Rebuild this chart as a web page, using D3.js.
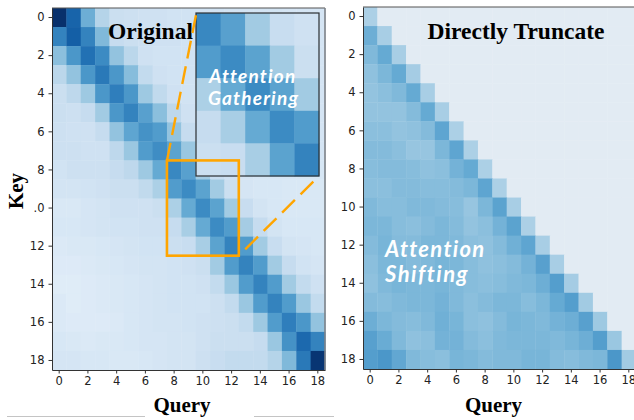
<!DOCTYPE html>
<html><head><meta charset="utf-8">
<script src="https://cdn.jsdelivr.net/npm/d3@7"></script>
<style>html,body{margin:0;padding:0;background:#fff;overflow:hidden}svg{display:block}</style>
</head><body><div id="chart"></div>
<script>
const categories = d3.range(19);
const tickValues = [0,2,4,6,8,10,12,14,16,18];
const leftKeyLabels = ["0","2","4","6","8",".0","12","14","16","18"];
const rightKeyLabels = ["0","2","4","6","8","10","12","14","16","18"];
const queryLabels = ["0","2","4","6","8","10","12","14","16","18"];
const original = [
[1.0,.80,.50,.30,.22,.21,.20,.20,.19,.19,.19,.19,.18,.18,.18,.18,.17,.17,.17],
[.68,.82,.68,.45,.24,.22,.21,.20,.20,.19,.19,.19,.18,.18,.18,.18,.17,.17,.17],
[.42,.60,.75,.65,.40,.28,.20,.19,.19,.19,.18,.18,.18,.18,.18,.17,.17,.17,.17],
[.28,.40,.60,.72,.60,.43,.25,.20,.19,.19,.19,.18,.18,.18,.18,.17,.17,.17,.17],
[.22,.27,.37,.60,.70,.60,.37,.26,.20,.19,.19,.18,.18,.18,.18,.18,.17,.17,.17],
[.22,.21,.24,.36,.60,.68,.56,.42,.27,.20,.19,.19,.18,.18,.18,.18,.18,.17,.17],
[.21,.20,.20,.24,.40,.54,.62,.58,.40,.24,.20,.19,.18,.18,.18,.18,.17,.17,.17],
[.21,.21,.20,.20,.27,.38,.58,.64,.55,.38,.22,.19,.18,.18,.17,.17,.17,.17,.17],
[.19,.21,.21,.21,.24,.27,.37,.52,.66,.56,.36,.23,.20,.17,.16,.16,.16,.16,.16],
[.18,.18,.19,.20,.22,.22,.26,.33,.58,.65,.55,.36,.22,.17,.16,.16,.15,.15,.15],
[.15,.15,.17,.18,.20,.20,.20,.22,.33,.52,.65,.55,.36,.23,.18,.16,.15,.15,.15],
[.16,.16,.17,.18,.19,.19,.20,.20,.24,.34,.52,.65,.58,.35,.24,.18,.16,.16,.16],
[.14,.15,.15,.16,.17,.18,.19,.19,.22,.23,.34,.55,.68,.58,.36,.23,.18,.17,.16],
[.13,.13,.14,.15,.16,.17,.18,.18,.19,.20,.22,.36,.58,.68,.58,.36,.24,.19,.17],
[.12,.12,.13,.14,.15,.16,.17,.18,.19,.19,.20,.25,.38,.58,.68,.58,.36,.25,.20],
[.14,.12,.13,.14,.15,.16,.17,.18,.19,.19,.19,.21,.25,.38,.58,.68,.58,.38,.25],
[.14,.13,.13,.13,.14,.16,.17,.18,.18,.19,.20,.21,.22,.25,.37,.58,.70,.60,.40],
[.16,.15,.14,.15,.15,.16,.17,.17,.18,.18,.20,.22,.22,.22,.24,.38,.62,.78,.68],
[.17,.17,.16,.16,.15,.15,.16,.17,.18,.18,.21,.23,.25,.25,.25,.30,.45,.72,.98]
];
const truncated = [
[.33],
[.50,.34],
[.45,.52,.34],
[.41,.46,.52,.35],
[.40,.42,.45,.52,.34],
[.40,.40,.40,.44,.52,.34],
[.42,.42,.40,.41,.44,.54,.33],
[.44,.44,.42,.39,.39,.46,.54,.33],
[.43,.44,.44,.43,.41,.42,.48,.52,.33],
[.42,.42,.44,.44,.43,.43,.44,.46,.54,.33],
[.45,.43,.43,.45,.45,.44,.43,.39,.46,.55,.34],
[.46,.46,.43,.42,.44,.46,.44,.40,.42,.48,.55,.33],
[.44,.47,.44,.44,.46,.46,.45,.42,.41,.44,.49,.54,.34],
[.42,.46,.46,.44,.45,.47,.46,.43,.41,.42,.44,.48,.56,.34],
[.41,.45,.47,.46,.46,.47,.45,.43,.42,.43,.45,.46,.50,.57,.35],
[.44,.43,.45,.46,.46,.48,.45,.42,.44,.46,.46,.43,.46,.52,.57,.36],
[.50,.46,.44,.43,.45,.49,.47,.42,.41,.44,.47,.46,.45,.48,.50,.56,.37],
[.56,.51,.45,.41,.42,.48,.48,.44,.42,.45,.46,.46,.46,.45,.47,.50,.57,.38],
[.57,.60,.53,.45,.43,.42,.47,.46,.44,.45,.45,.47,.47,.44,.43,.45,.46,.60,.36]
].map(r => r.concat(d3.range(19 - r.length).map(() => null)));

const W = 634, H = 420;
const svg = d3.select("#chart").append("svg").attr("width", W).attr("height", H);
const color = d3.scaleSequential(d3.interpolateBlues).domain([0, 1]);
const maskColor = "#e2ebf3";
const axisColor = "#333", textColor = "#222";

function panel(x0, x1, y0, y1, rows, keyLabels) {
  const x = d3.scaleBand().domain(categories).range([x0, x1]);
  const y = d3.scaleBand().domain(categories).range([y0, y1]);
  const g = svg.append("g");
  g.append("g").selectAll("g").data(rows).join("g").each(function (row, r) {
    d3.select(this).selectAll("rect").data(row).join("rect")
      .attr("x", (d, c) => x(c)).attr("y", y(r))
      .attr("width", x.bandwidth() + .4).attr("height", y.bandwidth() + .4)
      .attr("fill", d => d === null ? maskColor : color(d));
  });
  const ax = g.append("g").attr("transform", `translate(0,${y1})`)
    .call(d3.axisBottom(x).tickValues(tickValues).tickFormat((d, i) => queryLabels[i]).tickSize(3.5).tickSizeOuter(0).tickPadding(3.5));
  const ay = g.append("g").attr("transform", `translate(${x0},0)`)
    .call(d3.axisLeft(y).tickValues(tickValues).tickFormat((d, i) => keyLabels[i]).tickSize(3.5).tickSizeOuter(0).tickPadding(4));
  [ax, ay].forEach(a => {
    a.selectAll("path").attr("stroke", axisColor).attr("stroke-width", 1);
    a.selectAll("line").attr("stroke", axisColor).attr("stroke-width", 1);
    a.selectAll("text").attr("fill", textColor).style("font", "11.5px 'DejaVu Sans'");
  });
  g.append("line").attr("x1", x0).attr("x2", x1).attr("y1", y0).attr("y2", y0).attr("stroke", "#555").attr("stroke-width", 1.2);
  return { x, y, g };
}

const L = panel(52, 325, 8, 370, original, leftKeyLabels);
svg.append("line").attr("x1", 325).attr("x2", 325).attr("y1", 8).attr("y2", 370).attr("stroke", "#7d8288").attr("stroke-width", 1.6);
panel(363, 636, 7, 369, truncated, rightKeyLabels);

// Titles sit under the inset and the connectors
const serif = "'Liberation Serif','Times New Roman',serif";
function label(txt, x, y, size, rot) {
  const t = svg.append("text").text(txt).attr("text-anchor", "middle")
    .attr("font-family", serif).attr("font-weight", "bold").attr("font-size", size).attr("fill", "#000");
  if (rot) t.attr("transform", `translate(${x},${y}) rotate(${rot})`);
  else t.attr("x", x).attr("y", y);
}
label("Original", 150.5, 39, 23.5);
label("Directly Truncate", 516, 39, 23.5);
label("Query", 182, 412, 21);
label("Query", 493.5, 412, 21);
label("Key", 23, 191, 21, -90);

// Inset
const zoomKeys = [8,9,10,11,12];
const ix = d3.scaleBand().domain(zoomKeys).range([196, 319]);
const iy = d3.scaleBand().domain(zoomKeys).range([13, 176]);
const inset = svg.append("g");
zoomKeys.forEach(r => zoomKeys.forEach(c => {
  inset.append("rect").attr("x", ix(c)).attr("y", iy(r))
    .attr("width", ix.bandwidth() + .4).attr("height", iy.bandwidth() + .4)
    .attr("fill", color(original[r][c]));
}));
inset.append("rect").attr("x", 196).attr("y", 13).attr("width", 123).attr("height", 163)
  .attr("fill", "none").attr("stroke", "#2b2f33").attr("stroke-width", 1.2);

// Zoom region and connectors
const rx0 = L.x(8), rx1 = L.x(12) + L.x.bandwidth(), ry0 = L.y(8), ry1 = L.y(12) + L.y.bandwidth();
svg.append("rect").attr("x", rx0).attr("y", ry0).attr("width", rx1 - rx0).attr("height", ry1 - ry0)
  .attr("fill", "none").attr("stroke", "#ffa500").attr("stroke-width", 2.6);
svg.append("line").attr("x1", 167).attr("y1", ry0).attr("x2", 196).attr("y2", 15)
  .attr("stroke", "#ffa500").attr("stroke-width", 2.4).attr("stroke-dasharray", "18 8");
svg.append("line").attr("x1", 319).attr("y1", 176).attr("x2", rx1).attr("y2", ry1)
  .attr("stroke", "#ffa500").attr("stroke-width", 2.4).attr("stroke-dasharray", "0 8 18 8 18 8 18 8 18 8");

function hand(txt, x, y, size, spacing) {
  svg.append("text").text(txt).attr("x", x).attr("y", y)
    .attr("font-family", "Lato,'Open Sans',sans-serif").attr("font-style", "italic").attr("font-weight", "bold")
    .attr("letter-spacing", spacing).attr("font-size", size).attr("fill", "#fff");
}
hand("Attention", 209, 83, 19, 1.2);
hand("Gathering", 208, 105, 19, 1.2);
hand("Attention", 385, 257, 22, 1.3);
hand("Shifting", 385, 282, 22, 1.5);

// Stray rules at the bottom edge of the picture
svg.append("line").attr("x1", 7).attr("x2", 145).attr("y1", 416.5).attr("y2", 416.5).attr("stroke", "#c4c4c4");
svg.append("line").attr("x1", 254).attr("x2", 334).attr("y1", 416.5).attr("y2", 416.5).attr("stroke", "#c4c4c4");
</script></body></html>
